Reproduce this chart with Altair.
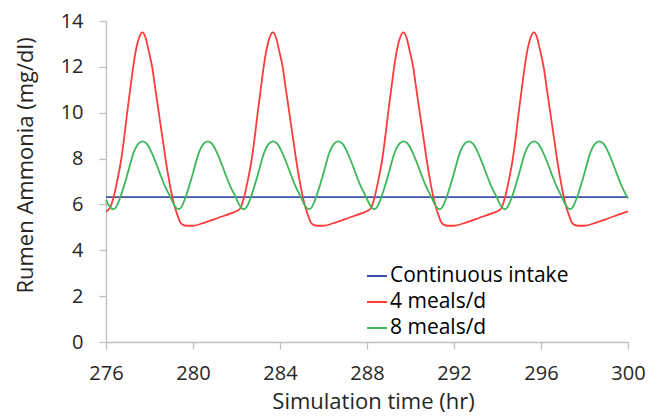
import altair as alt
import pandas as pd

series_names = ["Continuous intake", "4 meals/d", "8 meals/d"]
series_colors = ["#3F51B0", "#FF3B3B", "#3CB85A"]
x_ticks = [276, 280, 284, 288, 292, 296, 300]
y_ticks = [0, 2, 4, 6, 8, 10, 12, 14]

blue_t = [276.0, 300.0]
blue_v = [6.32, 6.32]

red_t = [
    276.00, 276.12, 276.22, 276.35, 276.52, 276.70, 276.84, 276.97, 277.11, 277.25,
    277.39, 277.53, 277.67, 277.81, 277.95, 278.13, 278.28, 278.43, 278.59, 278.74,
    278.89, 279.05, 279.19, 279.30, 279.39, 279.52, 279.72, 279.97, 280.57, 281.17,
    281.77, 282.12,
    282.22, 282.35, 282.52, 282.70, 282.84, 282.97, 283.11, 283.25, 283.39, 283.53,
    283.67, 283.81, 283.95, 284.13, 284.28, 284.43, 284.59, 284.74, 284.89, 285.05,
    285.19, 285.30, 285.39, 285.52, 285.72, 285.97, 286.57, 287.17, 287.77, 288.12,
    288.22, 288.35, 288.52, 288.70, 288.84, 288.97, 289.11, 289.25, 289.39, 289.53,
    289.67, 289.81, 289.95, 290.13, 290.28, 290.43, 290.59, 290.74, 290.89, 291.05,
    291.19, 291.30, 291.39, 291.52, 291.72, 291.97, 292.57, 293.17, 293.77, 294.12,
    294.22, 294.35, 294.52, 294.70, 294.84, 294.97, 295.11, 295.25, 295.39, 295.53,
    295.67, 295.81, 295.95, 296.13, 296.28, 296.43, 296.59, 296.74, 296.89, 297.05,
    297.19, 297.30, 297.39, 297.52, 297.72, 297.97, 298.57, 299.17, 299.77, 300.00,
]
red_v = [
    5.70, 5.77, 5.92, 6.32, 7.05, 7.97, 8.95, 9.98, 11.0, 12.0,
    12.8, 13.3, 13.5, 13.3, 12.75, 11.95, 10.95, 9.98, 8.95, 7.97,
    7.10, 6.32, 5.80, 5.50, 5.26, 5.12, 5.07, 5.07, 5.22, 5.42,
    5.62, 5.77,
    5.92, 6.32, 7.05, 7.97, 8.95, 9.98, 11.0, 12.0, 12.8, 13.3,
    13.5, 13.3, 12.75, 11.95, 10.95, 9.98, 8.95, 7.97, 7.10, 6.32,
    5.80, 5.50, 5.26, 5.12, 5.07, 5.07, 5.22, 5.42, 5.62, 5.77,
    5.92, 6.32, 7.05, 7.97, 8.95, 9.98, 11.0, 12.0, 12.8, 13.3,
    13.5, 13.3, 12.75, 11.95, 10.95, 9.98, 8.95, 7.97, 7.10, 6.32,
    5.80, 5.50, 5.26, 5.12, 5.07, 5.07, 5.22, 5.42, 5.62, 5.77,
    5.92, 6.32, 7.05, 7.97, 8.95, 9.98, 11.0, 12.0, 12.8, 13.3,
    13.5, 13.3, 12.75, 11.95, 10.95, 9.98, 8.95, 7.97, 7.10, 6.32,
    5.80, 5.50, 5.26, 5.12, 5.07, 5.07, 5.22, 5.42, 5.62, 5.70,
]

green_t = [
    276.00, 276.15, 276.33,
    276.46, 276.66, 276.83, 277.01, 277.27, 277.48, 277.68, 277.88, 278.10, 278.28, 278.46, 278.70, 278.96, 279.16, 279.33,
    279.46, 279.66, 279.83, 280.01, 280.27, 280.48, 280.68, 280.88, 281.10, 281.28, 281.46, 281.70, 281.96, 282.16, 282.33,
    282.46, 282.66, 282.83, 283.01, 283.27, 283.48, 283.68, 283.88, 284.10, 284.28, 284.46, 284.70, 284.96, 285.16, 285.33,
    285.46, 285.66, 285.83, 286.01, 286.27, 286.48, 286.68, 286.88, 287.10, 287.28, 287.46, 287.70, 287.96, 288.16, 288.33,
    288.46, 288.66, 288.83, 289.01, 289.27, 289.48, 289.68, 289.88, 290.10, 290.28, 290.46, 290.70, 290.96, 291.16, 291.33,
    291.46, 291.66, 291.83, 292.01, 292.27, 292.48, 292.68, 292.88, 293.10, 293.28, 293.46, 293.70, 293.96, 294.16, 294.33,
    294.46, 294.66, 294.83, 295.01, 295.27, 295.48, 295.68, 295.88, 296.10, 296.28, 296.46, 296.70, 296.96, 297.16, 297.33,
    297.46, 297.66, 297.83, 298.01, 298.27, 298.48, 298.68, 298.88, 299.10, 299.28, 299.46, 299.70, 300.00,
]
green_v = [
    6.20, 5.93, 5.79,
    5.88, 6.32, 6.82, 7.40, 8.26, 8.64, 8.75, 8.64, 8.26, 7.85, 7.40, 6.82, 6.32, 5.93, 5.79,
    5.88, 6.32, 6.82, 7.40, 8.26, 8.64, 8.75, 8.64, 8.26, 7.85, 7.40, 6.82, 6.32, 5.93, 5.79,
    5.88, 6.32, 6.82, 7.40, 8.26, 8.64, 8.75, 8.64, 8.26, 7.85, 7.40, 6.82, 6.32, 5.93, 5.79,
    5.88, 6.32, 6.82, 7.40, 8.26, 8.64, 8.75, 8.64, 8.26, 7.85, 7.40, 6.82, 6.32, 5.93, 5.79,
    5.88, 6.32, 6.82, 7.40, 8.26, 8.64, 8.75, 8.64, 8.26, 7.85, 7.40, 6.82, 6.32, 5.93, 5.79,
    5.88, 6.32, 6.82, 7.40, 8.26, 8.64, 8.75, 8.64, 8.26, 7.85, 7.40, 6.82, 6.32, 5.93, 5.79,
    5.88, 6.32, 6.82, 7.40, 8.26, 8.64, 8.75, 8.64, 8.26, 7.85, 7.40, 6.82, 6.32, 5.93, 5.79,
    5.88, 6.32, 6.82, 7.40, 8.26, 8.64, 8.75, 8.64, 8.26, 7.85, 7.40, 6.82, 6.25,
]

rows = []
for order, (name, ts, vs) in enumerate(zip(series_names, [blue_t, red_t, green_t], [blue_v, red_v, green_v])):
    for t, v in zip(ts, vs):
        rows.append({"time": t, "value": v, "series": name, "k": order})
df = pd.DataFrame(rows)

FONT = "Open Sans"
TXT = "#262626"
AX = "#BFBFBF"

chart = alt.Chart(df).mark_line(strokeWidth=1.8, interpolate="monotone").encode(
    x=alt.X(
        "time:Q",
        scale=alt.Scale(domain=[276, 300], nice=False, zero=False),
        axis=alt.Axis(
            values=x_ticks, title="Simulation time (hr)", grid=False,
            domainColor=AX, domainWidth=1.3, tickColor=AX, tickWidth=1.3, tickSize=7,
            labelFont=FONT, labelFontSize=20, labelColor=TXT, labelPadding=14,
            titleFont=FONT, titleFontSize=22, titleFontWeight="normal", titleColor=TXT,
            titleX=267, titleY=66, titleBaseline="alphabetic", titleAnchor="middle", titleAlign="center",
            labelFlush=False, labelOverlap=False,
        ),
    ),
    y=alt.Y(
        "value:Q",
        scale=alt.Scale(domain=[0, 14], nice=False),
        axis=alt.Axis(
            values=y_ticks, title="Rumen Ammonia (mg/dl)", grid=False,
            domainColor=AX, domainWidth=1.3, tickColor=AX, tickWidth=1.3, tickSize=7,
            labelFont=FONT, labelFontSize=20, labelColor=TXT, labelPadding=16,
            titleFont=FONT, titleFontSize=22, titleFontWeight="normal", titleColor=TXT,
            titleX=-81, titleY=144, titleAngle=270, titleBaseline="middle", titleAlign="center",
            labelFlush=False, labelOverlap=False,
        ),
    ),
    color=alt.Color(
        "series:N",
        scale=alt.Scale(domain=series_names, range=series_colors),
        legend=alt.Legend(
            orient="none", legendX=260, legendY=244, title=None,
            symbolType="stroke", symbolSize=400, symbolStrokeWidth=2,
            labelFont=FONT, labelFontSize=21, labelColor="#000000", labelLimit=400,
            labelOffset=2, rowPadding=5, padding=0,
        ),
    ),
    order=alt.Order("k:Q"),
).properties(
    width=522, height=321,
    padding={"left": 98, "top": 13, "right": 20, "bottom": 74},
    autosize=alt.AutoSizeParams(type="none"),
).configure_view(stroke=None)

chart.save("out.html", embed_options={"renderer": "svg", "actions": False})
